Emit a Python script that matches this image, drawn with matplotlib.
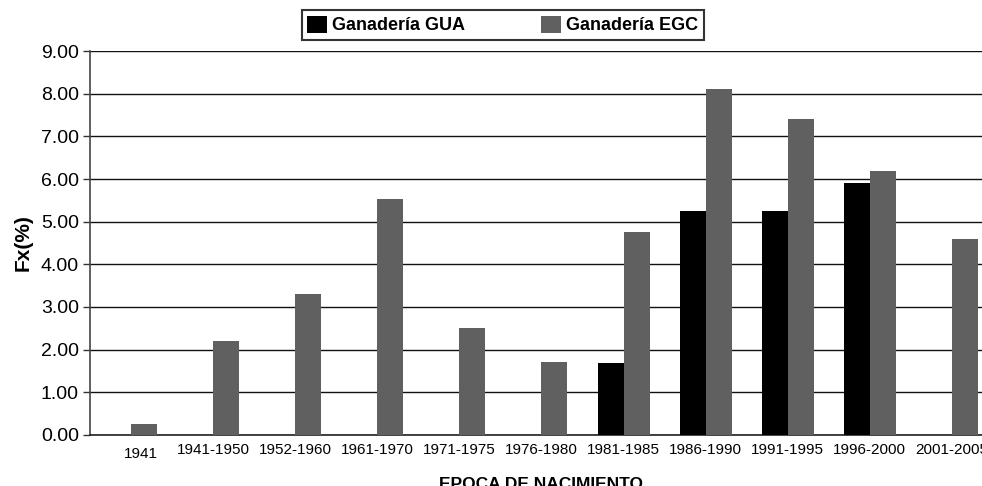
import numpy as np
import matplotlib.pyplot as plt
from matplotlib.transforms import ScaledTranslation

plt.rcParams['font.family'] = ['Liberation Sans', 'DejaVu Sans']

# ---------------- DATA ----------------
epocas = ["1941", "1941-1950", "1952-1960", "1961-1970", "1971-1975", "1976-1980",
          "1981-1985", "1986-1990", "1991-1995", "1996-2000", "2001-2005"]
fx_gua = [0, 0, 0, 0, 0, 0, 1.68, 5.25, 5.25, 5.90, 0]
fx_egc = [0.26, 2.20, 3.30, 5.53, 2.50, 1.71, 4.75, 8.10, 7.40, 6.18, 4.59]
yticks = np.arange(0, 9.01, 1.0)
# --------------------------------------

fig = plt.figure(figsize=(9.82, 4.86), dpi=100)
ax = fig.add_axes([0.0916, 0.105, 0.9196, 0.790])

x = np.arange(len(epocas))
w = 0.317
ax.bar(x - w / 2, fx_gua, w, color="#000000", label="Ganadería GUA", zorder=3)
ax.bar(x + w / 2, fx_egc, w, color="#606060", label="Ganadería EGC", zorder=3)

ax.set_xlim(-0.5, len(epocas) - 0.5)
ax.set_ylim(0, 9)
ax.set_yticks(yticks)
ax.set_yticklabels([f"{v:.2f}" for v in yticks], fontsize=14)
ax.tick_params(axis="x", length=0, pad=6)
ax.tick_params(axis="y", direction="out", length=5, width=1, color="#333333", pad=3)
ax.set_xticks(x)
ax.set_xticklabels(epocas, fontsize=11,
                   family=["Liberation Sans Narrow", "Liberation Sans"])
# the first label sits a bit lower/right in the original
lbl = ax.get_xticklabels()[0]
lbl.set_transform(lbl.get_transform() + ScaledTranslation(0.1, -0.04, fig.dpi_scale_trans))

ax.grid(axis="y", color="#111111", linewidth=1.0, zorder=0)
for s in ["top", "right"]:
    ax.spines[s].set_visible(False)
ax.spines["left"].set_color("#444444")
ax.spines["left"].set_linewidth(1.2)
ax.spines["bottom"].set_color("#222222")
ax.spines["bottom"].set_linewidth(1.2)

ax.set_ylabel("Fx(%)", fontsize=15, fontweight="bold", labelpad=6)
ax.set_xlabel("EPOCA DE NACIMIENTO", fontsize=12.5, fontweight="bold", labelpad=11)

leg = fig.legend(loc="upper center", bbox_to_anchor=(0.512, 0.979), ncol=2,
                 frameon=True, fancybox=False, edgecolor="black",
                 handlelength=1.1, handleheight=1.1, handletextpad=0.3,
                 columnspacing=4.2, borderpad=0.3, borderaxespad=0,
                 prop={"weight": "bold", "size": 13})
leg.get_frame().set_linewidth(1.5)

plt.savefig("out.png", dpi=100)
plt.close()
